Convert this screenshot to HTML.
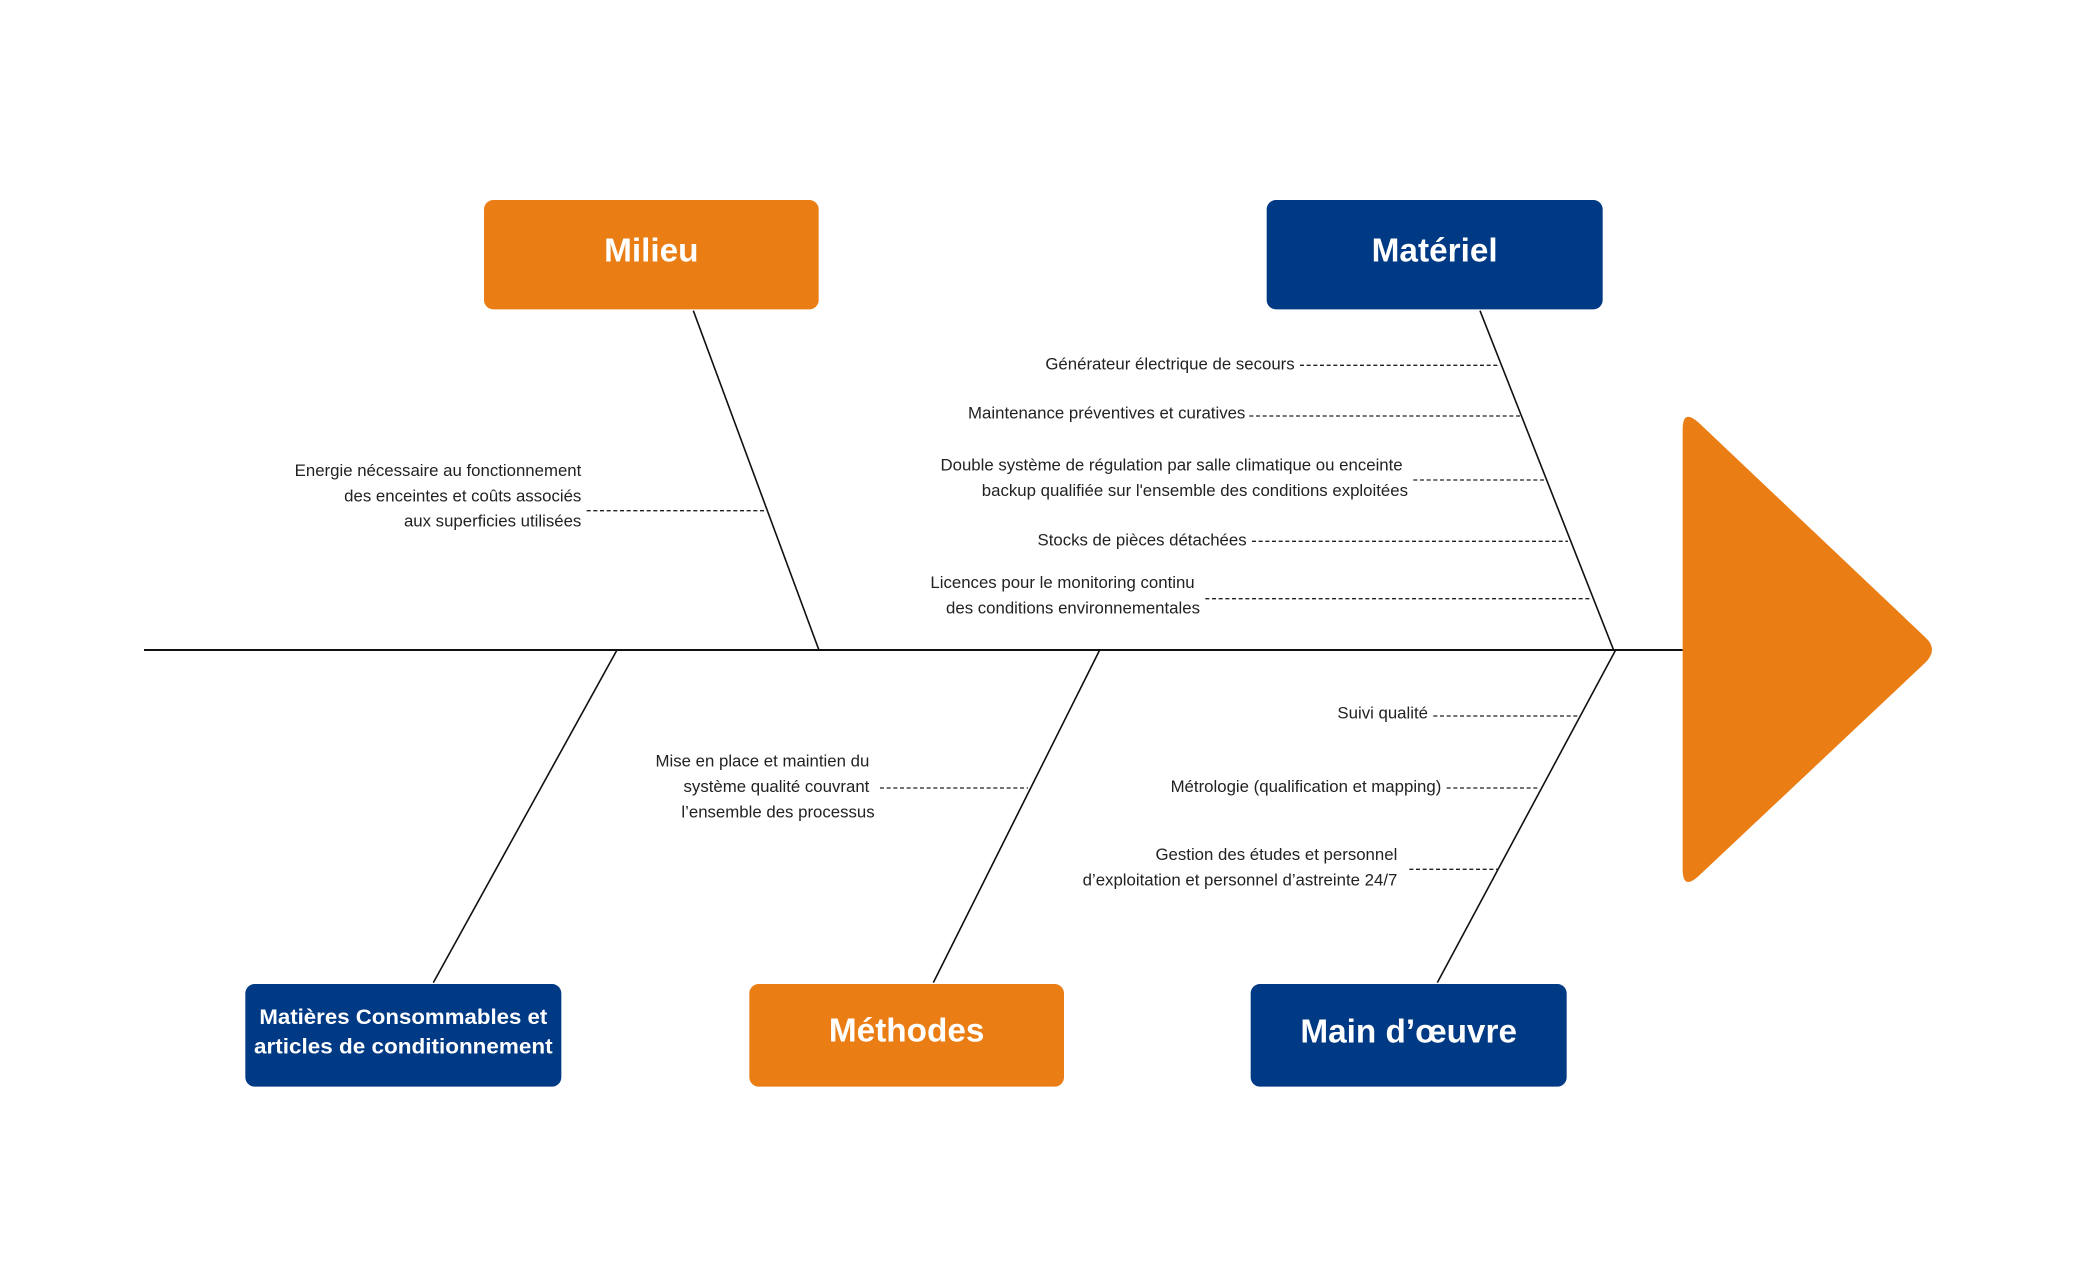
<!DOCTYPE html>
<html><head><meta charset="utf-8"><style>
html,body{margin:0;padding:0;background:#fff;}
svg{display:block;}
text{font-family:"Liberation Sans Narrow","Liberation Sans",sans-serif;}
.t{font-size:12.6px;fill:#222;text-anchor:end;}
.h{font-weight:bold;fill:#fff;text-anchor:middle;}
.d{stroke:#222;stroke-width:1;stroke-dasharray:3 2;fill:none;}
.l{stroke:#111;stroke-width:1.2;fill:none;}
</style></head><body>
<svg width="2080" height="1280" viewBox="0 0 1560 960" xmlns="http://www.w3.org/2000/svg">
<rect width="1560" height="960" fill="#fff"/>
<line x1="108" y1="487.5" x2="1262" y2="487.5" stroke="#111" stroke-width="1.5"/>
<path d="M1262,322 Q1262,306 1274,317 L1444,478 Q1454,487 1444,497 L1274,657 Q1262,668 1262,652 Z" fill="#ea7d14"/>
<line class="l" x1="520" y1="233" x2="614" y2="487"/>
<line class="l" x1="1110" y1="233" x2="1210" y2="487"/>
<line class="l" x1="463" y1="487" x2="325" y2="737"/>
<line class="l" x1="825" y1="487" x2="700" y2="737"/>
<line class="l" x1="1212" y1="487" x2="1078" y2="737"/>
<rect x="363" y="150" width="251" height="82" rx="7" fill="#ea7d14"/>
<text class="h" x="488.5" y="196" font-size="25">Milieu</text>
<rect x="950" y="150" width="252" height="82" rx="7" fill="#003984"/>
<text class="h" x="1076" y="196" font-size="25">Matériel</text>
<rect x="184" y="738" width="237" height="77" rx="7" fill="#003984"/>
<text class="h" x="302.5" y="768" font-size="16" textLength="216" lengthAdjust="spacingAndGlyphs">Matières Consommables et</text>
<text class="h" x="302.5" y="790" font-size="16" textLength="224" lengthAdjust="spacingAndGlyphs">articles de conditionnement</text>
<rect x="562" y="738" width="236" height="77" rx="7" fill="#ea7d14"/>
<text class="h" x="680" y="781" font-size="25">Méthodes</text>
<rect x="938" y="738" width="237" height="77" rx="7" fill="#003984"/>
<text class="h" x="1056.5" y="782" font-size="25">Main d’œuvre</text>
<text class="t" x="971" y="277">Générateur électrique de secours</text>
<line class="d" x1="975" y1="274" x2="1124" y2="274"/>
<text class="t" x="934" y="314">Maintenance préventives et curatives</text>
<line class="d" x1="937" y1="312" x2="1140" y2="312"/>
<text class="t" x="1052" y="353">Double système de régulation par salle climatique ou enceinte</text>
<text class="t" x="1056" y="372">backup qualifiée sur l'ensemble des conditions exploitées</text>
<line class="d" x1="1060" y1="360" x2="1160" y2="360"/>
<text class="t" x="935" y="409">Stocks de pièces détachées</text>
<line class="d" x1="939" y1="406" x2="1176" y2="406"/>
<text class="t" x="896" y="441">Licences pour le monitoring continu</text>
<text class="t" x="900" y="460">des conditions environnementales</text>
<line class="d" x1="904" y1="449" x2="1193" y2="449"/>
<text class="t" x="436" y="357">Energie nécessaire au fonctionnement</text>
<text class="t" x="436" y="376">des enceintes et coûts associés</text>
<text class="t" x="436" y="395">aux superficies utilisées</text>
<line class="d" x1="440" y1="383" x2="576" y2="383"/>
<text class="t" x="1071" y="539">Suivi qualité</text>
<line class="d" x1="1075" y1="537" x2="1183" y2="537"/>
<text class="t" x="1081" y="594">Métrologie (qualification et mapping)</text>
<line class="d" x1="1085" y1="591" x2="1155" y2="591"/>
<text class="t" x="1048" y="645">Gestion des études et personnel</text>
<text class="t" x="1048" y="664">d’exploitation et personnel d’astreinte 24/7</text>
<line class="d" x1="1057" y1="652" x2="1123" y2="652"/>
<text class="t" x="652" y="575">Mise en place et maintien du</text>
<text class="t" x="652" y="594">système qualité couvrant</text>
<text class="t" x="656" y="613">l’ensemble des processus</text>
<line class="d" x1="660" y1="591" x2="771" y2="591"/>
</svg>
</body></html>
